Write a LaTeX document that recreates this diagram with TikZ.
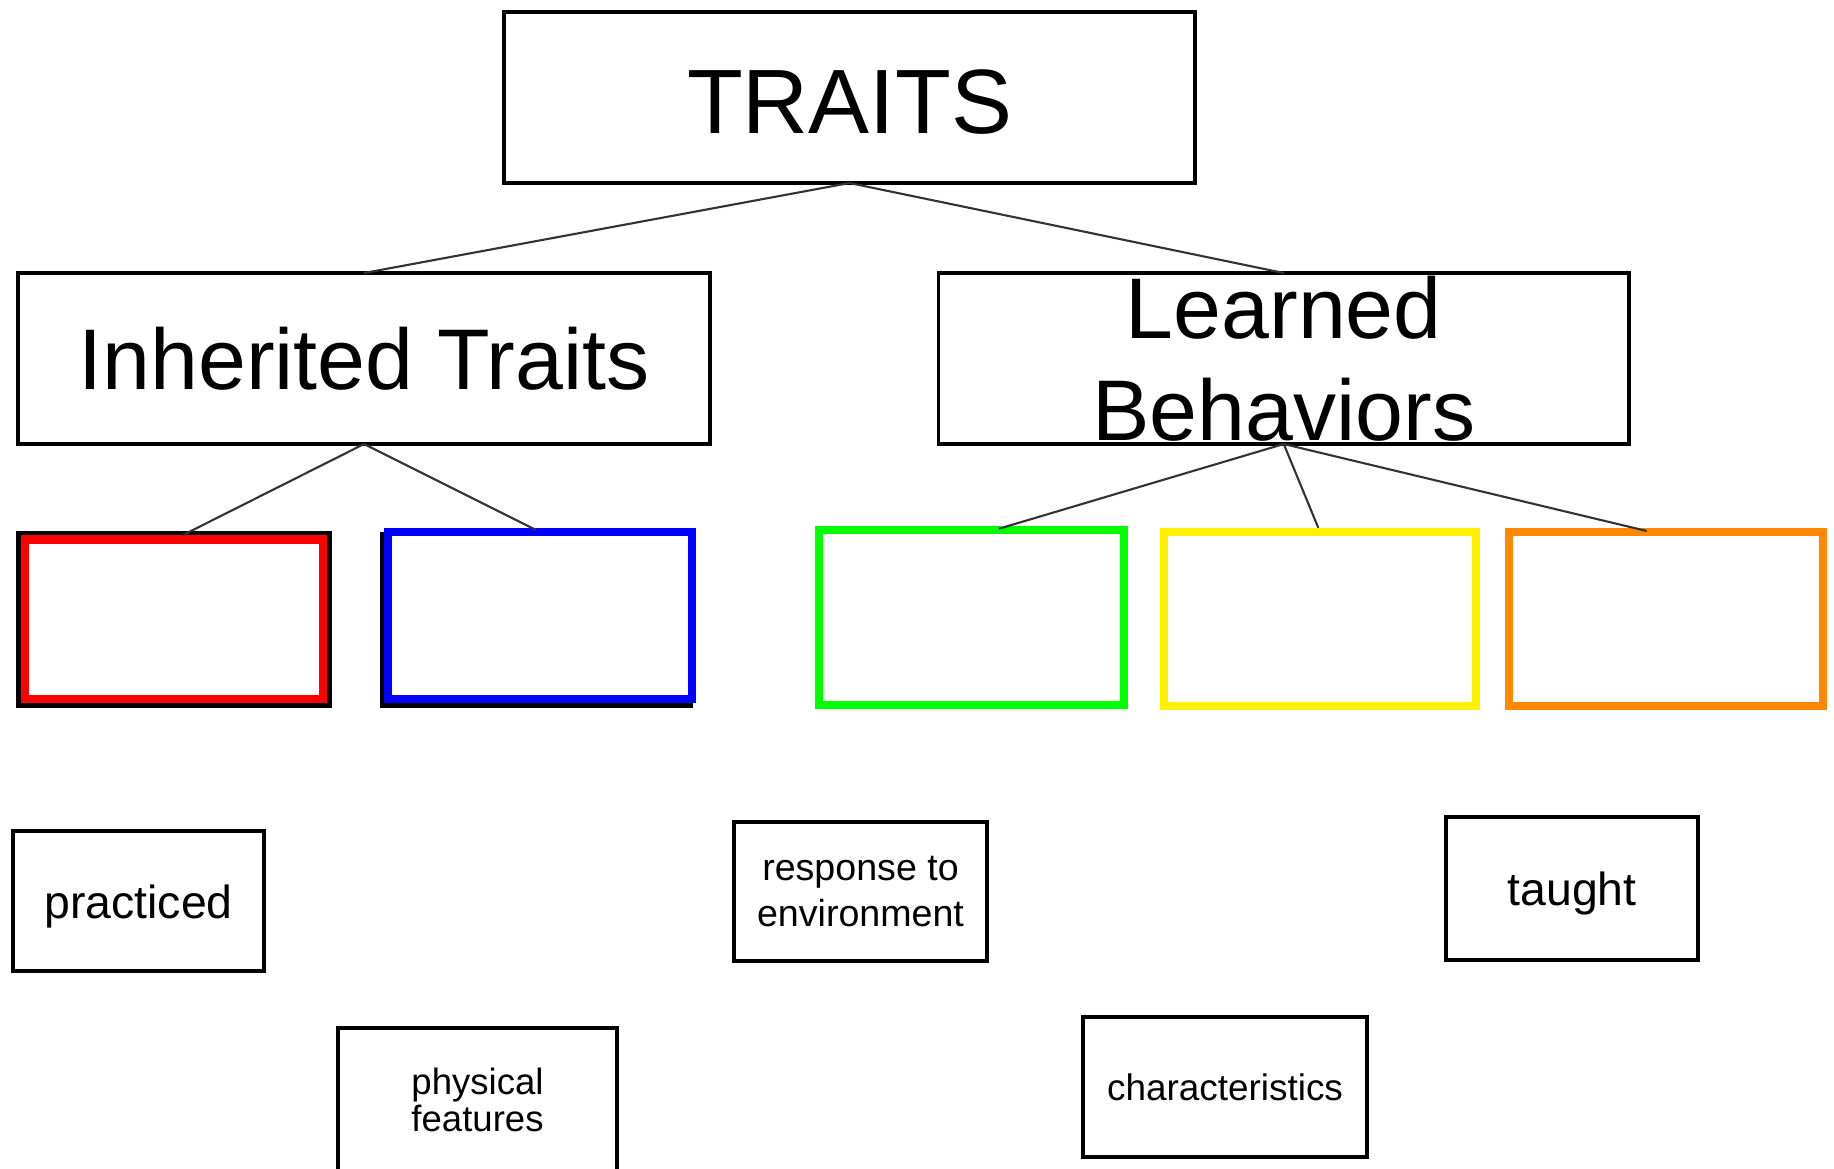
\documentclass[tikz,border=0pt]{standalone}
\usepackage{fontspec}
\setmainfont{Liberation Sans}
\usetikzlibrary{positioning}
\definecolor{slotorange}{RGB}{255,136,0}

\begin{document}
\begin{tikzpicture}[x=1cm, y=-1cm,
		box/.style={draw, line width=1.1pt, fill=white, inner sep=0pt, outer sep=0pt, align=center},
		slot/.style={draw=#1, line width=2.5pt, fill=white, inner sep=0pt, outer sep=0pt},
		rim/.style={draw=black, line width=#1, inner sep=0pt, outer sep=0pt},
		link/.style={line width=0.6pt, black!80}
	]
		\useasboundingbox (0,0) rectangle (18.34,11.68);
		
		%top
		\node[box, minimum width=6.91cm, minimum height=1.71cm, text height=21pt, font=\fontsize{26}{31}\selectfont] (traits) at (8.495,0.975) {TRAITS};
		
		%second row
		\node[box, minimum width=6.92cm, minimum height=1.71cm, font=\fontsize{24.5}{29}\selectfont] (inherited) at (3.64,3.585) {Inherited Traits};
		\node[box, minimum width=6.905cm, minimum height=1.71cm, font=\fontsize{24.5}{29}\selectfont] (learned) at (12.8375,3.585) {Learned\\Behaviors};
		
		%coloured boxes
		\node[rim=0.18cm, minimum width=2.98cm, minimum height=1.595cm] (redrim) at (1.74,6.1925) {};
		\node[slot=red, minimum width=2.98cm, minimum height=1.595cm] (red) at (1.74,6.1925) {};
		\node[rim=0.09cm, minimum width=3.04cm, minimum height=1.67cm, xshift=-0.04cm, yshift=-0.04cm] (blueshade) at (5.40,6.155) {};
		\node[slot=blue, minimum width=3.04cm, minimum height=1.67cm] (blue) at (5.40,6.155) {};
		\node[slot=green, minimum width=3.05cm, minimum height=1.75cm] (green) at (9.715,6.175) {};
		\node[slot=yellow, minimum width=3.12cm, minimum height=1.74cm] (yellow) at (13.20,6.19) {};
		\node[slot=slotorange, minimum width=3.14cm, minimum height=1.74cm] (orange) at (16.66,6.19) {};
		
		%words
		\node[box, line width=1pt, minimum width=2.51cm, minimum height=1.40cm, text height=12.5pt, font=\fontsize{13.2}{16}\selectfont] (practiced) at (1.385,9.01) {practiced};
		\node[box, line width=1pt, minimum width=2.79cm, minimum height=1.44cm, font=\fontsize{10.4}{10.7}\selectfont] (physical) at (4.775,11.00) {physical\\features};
		\node[box, line width=1pt, minimum width=2.53cm, minimum height=1.39cm, font=\fontsize{10.7}{13.2}\selectfont] (response) at (8.605,8.915) {response to\\environment};
		\node[box, line width=1pt, minimum width=2.84cm, minimum height=1.40cm, font=\fontsize{10.5}{13}\selectfont] (characteristics) at (12.25,10.87) {characteristics};
		\node[box, line width=1pt, minimum width=2.52cm, minimum height=1.43cm, text height=12.5pt, font=\fontsize{13.2}{16}\selectfont] (taught) at (15.72,8.885) {taught};
		
		%links
		\draw[link] (traits.south) -- (inherited.north);
		\draw[link] (traits.south) -- (learned.north);
		\draw[link, shorten >=0.09cm] (inherited.south) -- (red.north);
		\draw[link, shorten >=0.045cm] (inherited.south) -- (blue.north);
		\draw[link, shorten >=0.045cm] (learned.south) -- ([xshift=0.23cm]green.north);
		\draw[link, shorten >=0.045cm] (learned.south) -- (yellow.north);
		\draw[link, shorten >=0.045cm] (learned.south) -- ([xshift=-0.15cm]orange.north);
	\end{tikzpicture}
\end{document}
